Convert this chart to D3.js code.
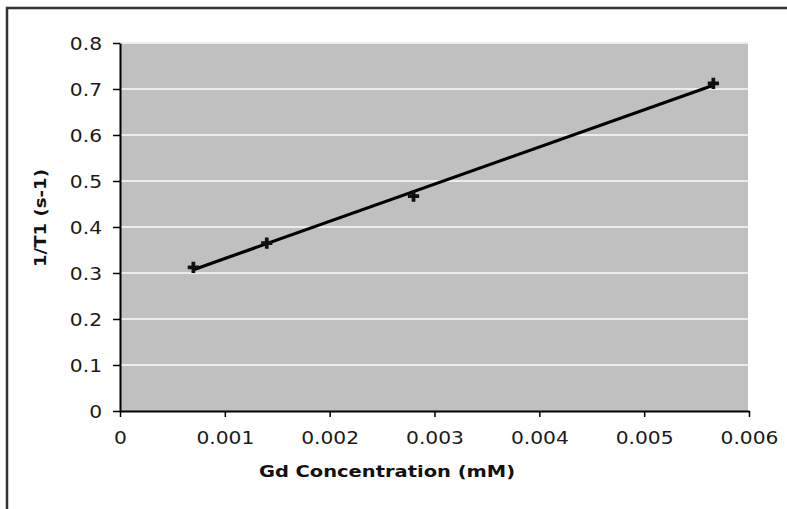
<!DOCTYPE html>
<html>
<head>
<meta charset="utf-8">
<script src="https://cdn.jsdelivr.net/npm/d3@7"></script>
<style>
  body { margin: 0; background: #fff; }
  #chart { width: 787px; height: 509px; }
</style>
</head>
<body>
<div id="chart"></div>
<script>
// Gd concentration (mM) vs relaxation rate 1/T1 (s-1)
const concentration = [0.0007, 0.0014, 0.0028, 0.00566];
const relaxRate = [0.312, 0.365, 0.467, 0.712];

const xTicks = [0, 0.001, 0.002, 0.003, 0.004, 0.005, 0.006];
const yTicks = [0, 0.1, 0.2, 0.3, 0.4, 0.5, 0.6, 0.7, 0.8];

const xTitle = "Gd Concentration (mM)";
const yTitle = "1/T1 (s-1)";

function drawChart() {
    const points = concentration.map((c, i) => ({ x: c, y: relaxRate[i] }));

    // linear trendline (least squares)
    const mx = d3.mean(points, d => d.x);
    const my = d3.mean(points, d => d.y);
    const slope = d3.sum(points, d => (d.x - mx) * (d.y - my)) / d3.sum(points, d => (d.x - mx) ** 2);
    const intercept = my - slope * mx;
    const xExtent = d3.extent(concentration);
    const trend = xExtent.map(x => ({ x: x, y: intercept + slope * x }));

    const totalW = 787, totalH = 509;
    const margin = { top: 43, right: 38, bottom: 98, left: 120 };
    const width = totalW - margin.left - margin.right;
    const height = totalH - margin.top - margin.bottom;

    const x = d3.scaleLinear().domain([0, 0.006]).range([0, width]);
    const y = d3.scaleLinear().domain([0, 0.8]).range([height, 0]);

    const svg = d3.select("#chart")
        .append("svg")
        .attr("width", totalW)
        .attr("height", totalH);

    // outer frame (runs off the right/bottom edges)
    svg.append("rect")
        .attr("x", 7)
        .attr("y", 8)
        .attr("width", 820)
        .attr("height", 540)
        .attr("fill", "none")
        .attr("stroke", "#333")
        .attr("stroke-width", 2.5);

    const g = svg.append("g")
        .attr("transform", `translate(${margin.left},${margin.top})`);

    // plot area
    g.append("rect")
        .attr("width", x(0.006) - 1)
        .attr("height", height)
        .attr("fill", "#c0c0c0");

    // gridlines
    g.selectAll(".grid")
        .data(yTicks.filter(t => t > 0))
        .enter()
        .append("line")
        .attr("class", "grid")
        .attr("x1", 0)
        .attr("x2", x(0.006) - 1)
        .attr("y1", d => y(d))
        .attr("y2", d => y(d))
        .attr("stroke", "#ececec")
        .attr("stroke-width", 2);

    // axes
    const xAxis = g.append("g")
        .attr("transform", `translate(0,${height})`)
        .call(d3.axisBottom(x).tickValues(xTicks).tickFormat(d => String(d)).tickSize(6).tickSizeOuter(0));

    const yAxis = g.append("g")
        .call(d3.axisLeft(y).tickValues(yTicks).tickFormat(d => String(d)).tickSize(7).tickSizeOuter(0));

    [xAxis, yAxis].forEach(a => {
        a.select(".domain").attr("stroke", "#000").attr("stroke-width", 2);
        a.selectAll(".tick line").attr("stroke", "#000").attr("stroke-width", 1.5);
        a.selectAll(".tick text")
            .attr("fill", "#1a1a1a")
            .style("font-family", "DejaVu Sans, Verdana, sans-serif")
            .style("font-size", "17px")
            .attr("transform", "scale(1.19,1)");
    });
    xAxis.selectAll(".tick text").attr("y", 21).attr("dy", "0.71em");
    yAxis.selectAll(".tick text").attr("x", -15.1).attr("dy", "0.36em");

    // trendline
    g.append("path")
        .datum(trend)
        .attr("fill", "none")
        .attr("stroke", "#000")
        .attr("stroke-width", 3.2)
        .attr("d", d3.line().x(d => x(d.x)).y(d => y(d.y)));

    // data markers
    g.selectAll(".pt")
        .data(points)
        .enter()
        .append("path")
        .attr("class", "pt")
        .attr("transform", d => `translate(${x(d.x)},${y(d.y)})`)
        .attr("d", d3.symbol().type(d3.symbolCross).size(70))
        .attr("fill", "#111");

    // axis titles
    svg.append("g")
        .attr("transform", "translate(387,477) scale(1.18,1)")
        .append("text")
        .attr("text-anchor", "middle")
        .style("font-family", "DejaVu Sans, Verdana, sans-serif")
        .style("font-weight", "bold")
        .style("font-size", "16.5px")
        .attr("fill", "#111")
        .text(xTitle);

    svg.append("g")
        .attr("transform", "translate(46,218) rotate(-90) scale(1.1,1)")
        .append("text")
        .attr("text-anchor", "middle")
        .style("font-family", "DejaVu Sans, Verdana, sans-serif")
        .style("font-weight", "bold")
        .style("font-size", "16.5px")
        .attr("fill", "#111")
        .text(yTitle);
}

drawChart();
</script>
</body>
</html>
